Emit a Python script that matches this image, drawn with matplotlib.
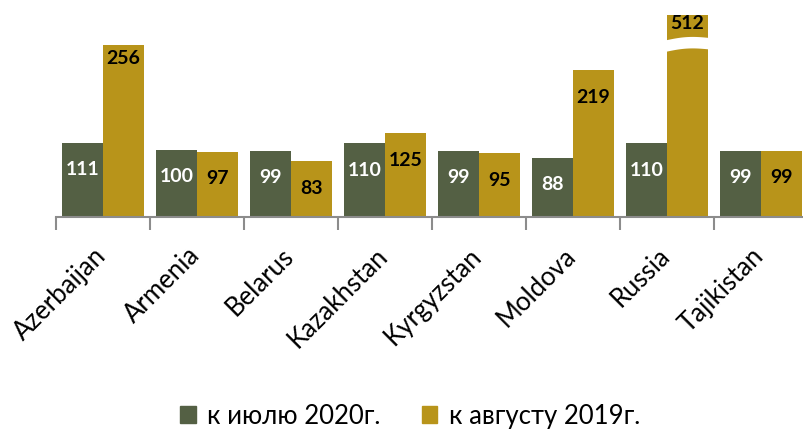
import numpy as np
import matplotlib
matplotlib.use('Agg')
import matplotlib.pyplot as plt
from matplotlib.patches import Polygon, Patch

# chart data
countries = ["Azerbaijan", "Armenia", "Belarus", "Kazakhstan",
             "Kyrgyzstan", "Moldova", "Russia", "Tajikistan"]
july_2020 = [111, 100, 99, 110, 99, 88, 110, 99]
aug_2019 = [256, 97, 83, 125, 95, 219, 512, 99]
legend_labels = ["к июлю 2020г.", "к августу 2019г."]

green = "#546044"
gold = "#b8941a"
axis_grey = "#8c8c8c"

plt.rcParams['font.family'] = ['Lato', 'DejaVu Sans']

fig = plt.figure(figsize=(8.04, 4.31), dpi=100)
W, H = 804, 431
# axes placed in pixel terms: baseline at y=218, 94 px per category
ax = fig.add_axes([56 / W, (H - 218) / H, 752 / W, 208 / H])
ymax = 310
ax.set_ylim(0, ymax)
ax.set_xlim(-0.5, len(countries) - 0.5)

cap = 301  # tallest drawn bar (axis is broken above this)
x = np.arange(len(countries))
bw = 0.436
shown = [min(v, cap) for v in aug_2019]
ax.bar(x - bw / 2, july_2020, bw, color=green, zorder=2)
ax.bar(x + bw / 2, shown, bw, color=gold, zorder=2)

px = ymax / 208.0  # data units per pixel

def put_label(xc, top, val, color, off_px):
    ax.text(xc, top - off_px * px, str(val), ha='center', va='center',
            color=color, fontsize=14, fontweight='bold', zorder=4)

for i in range(len(countries)):
    put_label(x[i] - bw / 2, july_2020[i], july_2020[i], 'white', 26)
    v = aug_2019[i]
    if v > cap:
        off = 7
    elif v > 250:
        off = 12
    else:
        off = 26
    put_label(x[i] + bw / 2, shown[i], v, 'black', off)

# break marks on clipped bars
for i, v in enumerate(aug_2019):
    if v <= cap:
        continue
    xs = np.linspace(x[i] - 0.02, x[i] + bw + 0.02, 30)
    t = (xs - xs[0]) / (xs[-1] - xs[0])
    wave = 2.2 * np.sin(np.pi * t) * px + 2.5 * t * px
    lo = (218 - 53) * px + wave
    hi = (218 - 41.5) * px + wave
    pts = np.concatenate([np.column_stack([xs, lo]),
                          np.column_stack([xs[::-1], hi[::-1]])])
    ax.add_patch(Polygon(pts, closed=True, facecolor='white',
                         edgecolor='none', zorder=3))

for s in ['left', 'right', 'top']:
    ax.spines[s].set_visible(False)
ax.spines['bottom'].set_color(axis_grey)
ax.spines['bottom'].set_linewidth(1.5)
ax.set_yticks([])

ax.set_xticks(np.arange(-0.5, len(countries), 1.0))
ax.set_xticklabels([])
ax.tick_params(axis='x', which='major', length=9, width=1.5, color=axis_grey)
# labels sit slightly left of the group centre
ax.set_xticks(x - 0.105, minor=True)
ax.set_xticklabels(countries, minor=True, rotation=45, ha='right',
                   rotation_mode='anchor', fontsize=18.5)
ax.tick_params(axis='x', which='minor', length=0, pad=18)

handles = [Patch(color=green), Patch(color=gold)]
fig.legend(handles, legend_labels, loc='lower center', ncol=2,
           bbox_to_anchor=(0.51, -0.05), frameon=False, fontsize=18.5,
           handlelength=0.6, handleheight=0.6, handletextpad=0.45,
           columnspacing=1.6)

fig.savefig("out.png", dpi=100)
